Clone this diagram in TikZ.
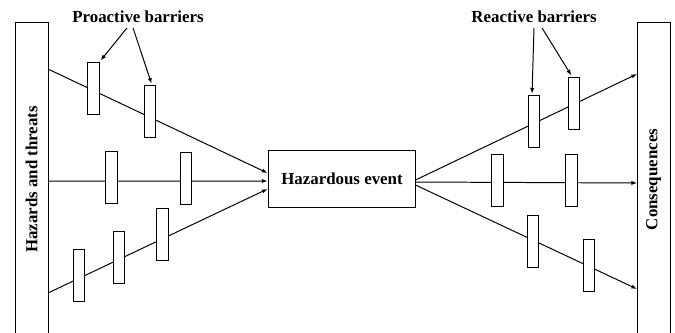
\documentclass[tikz,border=0pt]{standalone}
\usepackage{fontspec}
\setmainfont{Liberation Serif}
\usetikzlibrary{arrows.meta, calc}

\begin{document}
\begin{tikzpicture}[x=0.025cm, y=-0.025cm,
    font=\bfseries\fontsize{12}{14}\selectfont,
    box/.style={draw, line width=0.7pt, fill=white, inner sep=0pt},
    sidebar/.style={box, rotate=90, minimum width=7.825cm, minimum height=0.825cm},
    barrier/.style={box, minimum width=0.29cm, minimum height=1.3cm},
    flow/.style={line width=0.7pt, -{Latex[length=4pt, width=3pt]}},
    pointer/.style={line width=0.7pt, -{Latex[length=4pt, width=3pt]}, shorten >=1pt}]
    \useasboundingbox (0,0) rectangle (675,332);

    % End boxes
    \node[sidebar] (haz) at (31.5,179.5) {Hazards and threats};
    \node[sidebar] (cons) at (653.5,179.5) {Consequences};
    \node[box, minimum width=3.65cm, minimum height=1.425cm] (ev) at (342,178.5) {Hazardous event};

    % Attach points on the side boxes
    \coordinate (h1) at (48,69);
    \coordinate (h2) at (48,181);
    \coordinate (h3) at (48,293);
    \coordinate (c1) at (637,74);
    \coordinate (c2) at (637,183);
    \coordinate (c3) at (637,289);

    % Threat paths into the event
    \draw[flow] (h1) -- ($(ev.west)+(-1,-5.5)$);
    \draw[flow] (h2) -- ($(ev.west)+(-1,2.5)$);
    \draw[flow] (h3) -- ($(ev.west)+(-1,10.5)$);

    % Paths from the event to the consequences
    \draw[flow] ($(ev.east)+(0,1.5)$) -- (c1);
    \draw[flow] ($(ev.east)+(0,3.5)$) -- (c2);
    \draw[flow] ($(ev.east)+(0,6.5)$) -- (c3);

    % Proactive barriers
    \node[barrier] (p1) at (93.5,88) {};
    \node[barrier] (p2) at (150,111.5) {};
    \node[barrier] (p3) at (111.5,177.5) {};
    \node[barrier] (p4) at (186,178) {};
    \node[barrier] (p5) at (79,275) {};
    \node[barrier] (p6) at (119,257) {};
    \node[barrier] (p7) at (162.5,234) {};

    % Reactive barriers
    \node[barrier] (r1) at (534,121.5) {};
    \node[barrier] (r2) at (574,103) {};
    \node[barrier] (r3) at (497.5,180.5) {};
    \node[barrier] (r4) at (571.5,180.5) {};
    \node[barrier] (r5) at (533,241.5) {};
    \node[barrier] (r6) at (589,265) {};

    % Labels
    \node (pro) at (138,17) {Proactive barriers};
    \node (rea) at (534,17) {Reactive barriers};

    \draw[pointer] ($(pro.south)+(-11,0)$) -- (p1.north east);
    \draw[pointer] ($(pro.south)+(-5,0)$) -- ($(p2.north)+(2,0)$);
    \draw[pointer] ($(rea.south)+(0,0)$) -- ($(r1.north)+(-2,0)$);
    \draw[pointer] ($(rea.south)+(8,0)$) -- ($(r2.north)+(-2,0)$);
\end{tikzpicture}
\end{document}
